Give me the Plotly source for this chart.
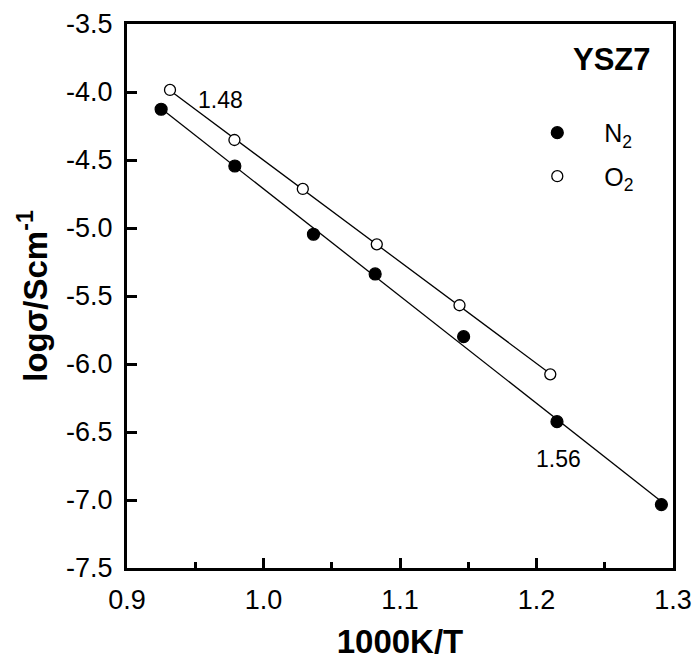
import numpy as np
import plotly.graph_objects as go

# Data
x_n2 = [0.925, 0.979, 1.0366, 1.0818, 1.1466, 1.215, 1.2915]
y_n2 = [-4.127, -4.544, -5.046, -5.338, -5.799, -6.424, -7.034]
x_o2 = [0.9315, 0.9787, 1.0288, 1.083, 1.1436, 1.2101]
y_o2 = [-3.985, -4.353, -4.713, -5.120, -5.568, -6.076]

x_ticks = [0.9, 1.0, 1.1, 1.2, 1.3]
x_ticklabels = ["0.9", "1.0", "1.1", "1.2", "1.3"]
y_ticks = [-3.5, -4.0, -4.5, -5.0, -5.5, -6.0, -6.5, -7.0, -7.5]
y_ticklabels = ["-3.5", "-4.0", "-4.5", "-5.0", "-5.5", "-6.0", "-6.5", "-7.0", "-7.5"]

label_n2 = "1.56"
label_o2 = "1.48"
sample = "YSZ7"
x_title = "1000K/T"
y_title = "logσ/Scm<sup>-1</sup>"

FONT = "Arial, Liberation Sans, Helvetica, sans-serif"

def fit_line(xs, ys):
    k, b = np.polyfit(xs, ys, 1)
    xf = np.array([min(xs), max(xs)])
    return xf, k * xf + b

fig = go.Figure()

for xs, ys in [(x_n2, y_n2), (x_o2, y_o2)]:
    xf, yf = fit_line(xs, ys)
    fig.add_trace(go.Scatter(x=xf, y=yf, mode="lines",
                             line=dict(color="black", width=1.3),
                             showlegend=False, hoverinfo="skip"))

fig.add_trace(go.Scatter(x=x_n2, y=y_n2, mode="markers", name="N<sub>2</sub>",
                         legendgroup="n2",
                         marker=dict(symbol="circle", size=12, color="black",
                                     line=dict(color="black", width=1.2))))
fig.add_trace(go.Scatter(x=x_o2, y=y_o2, mode="markers", name="O<sub>2</sub>",
                         legendgroup="o2",
                         marker=dict(symbol="circle", size=11, color="white",
                                     line=dict(color="black", width=1.3))))

fig.add_annotation(x=x_o2[0], y=y_o2[0], text=label_o2, showarrow=False,
                   xshift=50, yshift=-10,
                   font=dict(size=23, color="black", family=FONT))
fig.add_annotation(x=x_n2[5], y=y_n2[5], text=label_n2, showarrow=False,
                   xshift=2, yshift=-37,
                   font=dict(size=23, color="black", family=FONT))
fig.add_annotation(x=0.963, y=0.934, xref="paper", yref="paper", text="<b>" + sample + "</b>",
                   showarrow=False, xanchor="right", yanchor="middle",
                   font=dict(size=31, color="black", family=FONT))

axis_common = dict(showgrid=False, zeroline=False, showline=True, linecolor="black",
                   linewidth=3, mirror=True, ticks="inside", ticklen=10, tickwidth=2.5,
                   tickcolor="black", automargin=False, ticklabelstandoff=6,
                   tickfont=dict(size=27, color="black", family=FONT))

fig.update_xaxes(range=[0.9, 1.3], tickmode="array", tickvals=x_ticks, ticktext=x_ticklabels,
                 minor=dict(ticks="inside", dtick=0.05, tick0=0.9, ticklen=6, tickwidth=2.5,
                            tickcolor="black"),
                 title=dict(text="<b>" + x_title + "</b>", font=dict(size=33, color="black", family=FONT),
                            standoff=25),
                 **axis_common)
fig.update_yaxes(range=[-7.5, -3.5], tickmode="array", tickvals=y_ticks, ticktext=y_ticklabels,
                 title=dict(text="<b>" + y_title + "</b>", font=dict(size=33, color="black", family=FONT),
                            standoff=9),
                 **axis_common)

fig.update_layout(
    width=684, height=652,
    margin=dict(l=119, r=19.3, t=16, b=92),
    paper_bgcolor="white", plot_bgcolor="white",
    font=dict(family=FONT, color="black"),
    legend=dict(x=0.702, y=0.842, xanchor="left", yanchor="top",
                font=dict(size=25, color="black", family=FONT),
                bgcolor="rgba(0,0,0,0)", tracegroupgap=8, itemwidth=84),
)

fig.write_html("out.html")
